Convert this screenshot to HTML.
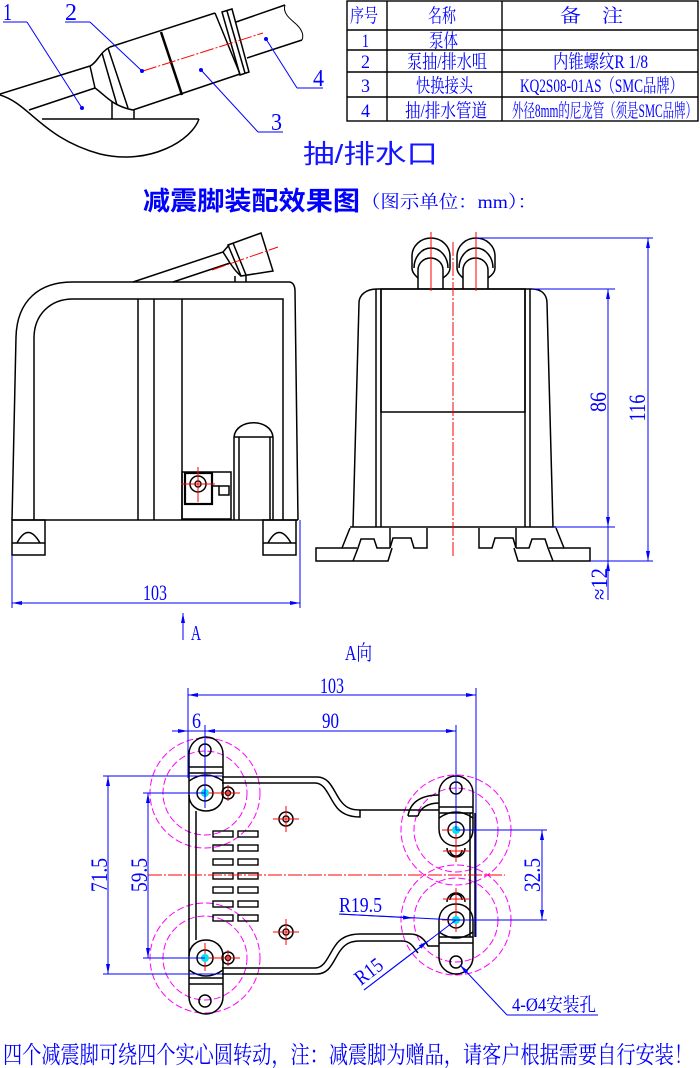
<!DOCTYPE html>
<html><head><meta charset="utf-8"><style>
html,body{margin:0;padding:0;background:#fff;}
svg{display:block;}
.k{stroke:#000;stroke-width:1.5;fill:none;}
.b{stroke:#0000ff;stroke-width:1;fill:none;}
.r{stroke:#ff0000;stroke-width:1;fill:none;stroke-dasharray:14 2 2 2;}
.rs{stroke:#ff0000;stroke-width:1;fill:none;}
.m{stroke:#ff00ff;stroke-width:1;fill:none;stroke-dasharray:7 3;}
.t{fill:#0000ff;font-family:"Liberation Serif","Noto Serif CJK SC",serif;}
.c{fill:#0000ff;font-family:"Liberation Serif","Noto Serif CJK SC",serif;}
</style></head><body>
<svg width="700" height="1068" viewBox="0 0 700 1068" xmlns="http://www.w3.org/2000/svg">
<defs>
<marker id="ar" viewBox="0 0 10 4" refX="10" refY="2" markerWidth="10" markerHeight="4" markerUnits="userSpaceOnUse" orient="auto-start-reverse"><path d="M0,0L10,2L0,4z" fill="#0000ff"/></marker>
</defs>
<rect width="700" height="1068" fill="#fff"/>

<!-- ===== Top-left detail ===== -->
<g class="k" stroke-width="1.3">
<path d="M0,95 C30,104 42,138 100,154 C150,166 192,140 199,119"/>
<line x1="42" y1="119" x2="199" y2="119"/>
<line x1="0" y1="94" x2="90" y2="66"/>
<line x1="29" y1="110" x2="95" y2="88"/>
<path d="M90,66 C97,63 100,52 110,47"/>
<path d="M95,88 C105,95 112,106 133,110"/>
<line x1="90" y1="66" x2="95" y2="88"/>
<line x1="102" y1="53" x2="117" y2="105"/>
<line x1="108" y1="48" x2="128" y2="108"/>
<line x1="110" y1="47" x2="215" y2="13"/>
<line x1="133" y1="110" x2="240" y2="74"/>
<line x1="161" y1="32" x2="182" y2="95" stroke-width="2.5"/>
<line x1="215" y1="13" x2="240" y2="74"/>
<polygon points="222,12 232,9 249,72 240,75"/>
<line x1="227" y1="11" x2="245" y2="73"/>
<line x1="236" y1="22" x2="285" y2="5"/>
<line x1="247" y1="58" x2="302" y2="40"/>
<path d="M285,5 C282,14 292,20 297,25 C302,30 304,35 302,40" stroke-width="1"/>
<line x1="112" y1="102" x2="112" y2="119"/>
<line x1="134" y1="110" x2="134" y2="119"/>
</g>
<line class="r" x1="143" y1="71" x2="263" y2="33"/>
<g class="b">
<line x1="3" y1="22" x2="27" y2="22"/><line x1="27" y1="22" x2="82" y2="108"/>
<line x1="65" y1="22" x2="90" y2="22"/><line x1="90" y1="22" x2="142" y2="71"/>
<line x1="258" y1="132" x2="283" y2="132"/><line x1="258" y1="132" x2="201" y2="70"/>
<line x1="297" y1="88" x2="323" y2="88"/><line x1="297" y1="88" x2="266" y2="39"/>
</g>
<g fill="#0000ff"><circle cx="82" cy="108" r="2"/><circle cx="142" cy="71" r="2"/><circle cx="201" cy="70" r="2"/><circle cx="266" cy="39" r="2"/></g>
<g class="t" font-size="24">
<text x="3" y="20" textLength="9" lengthAdjust="spacingAndGlyphs">1</text>
<text x="65" y="20" textLength="12" lengthAdjust="spacingAndGlyphs">2</text>
<text x="271" y="130" textLength="11" lengthAdjust="spacingAndGlyphs">3</text>
<text x="313" y="86" textLength="11" lengthAdjust="spacingAndGlyphs">4</text>
</g>

<!-- ===== Table ===== -->
<g stroke="#000" stroke-width="1.4" fill="none">
<rect x="347" y="1" width="351" height="120"/>
<line x1="387" y1="1" x2="387" y2="121"/>
<line x1="502" y1="1" x2="502" y2="121"/>
<line x1="347" y1="30" x2="698" y2="30"/>
<line x1="347" y1="50" x2="698" y2="50"/>
<line x1="347" y1="72" x2="698" y2="72"/>
<line x1="347" y1="97" x2="698" y2="97"/>
</g>
<g class="c" font-size="19">
<text x="350" y="22" textLength="28" lengthAdjust="spacingAndGlyphs">序号</text>
<text x="428" y="22" textLength="28" lengthAdjust="spacingAndGlyphs">名称</text>
<text x="560" y="22" textLength="63" lengthAdjust="spacingAndGlyphs">备　注</text>
<text x="362" y="47" textLength="7" lengthAdjust="spacingAndGlyphs">1</text>
<text x="429" y="47" textLength="29" lengthAdjust="spacingAndGlyphs">泵体</text>
<text x="361" y="68" textLength="9" lengthAdjust="spacingAndGlyphs">2</text>
<text x="407" y="68" textLength="80" lengthAdjust="spacingAndGlyphs">泵抽/排水咀</text>
<text x="553" y="68" textLength="95" lengthAdjust="spacingAndGlyphs">内锥螺纹R 1/8</text>
<text x="361" y="92" textLength="9" lengthAdjust="spacingAndGlyphs">3</text>
<text x="416" y="92" textLength="57" lengthAdjust="spacingAndGlyphs">快换接头</text>
<text x="520" y="92" textLength="163" lengthAdjust="spacingAndGlyphs">KQ2S08-01AS（SMC品牌）</text>
<text x="361" y="117" textLength="9" lengthAdjust="spacingAndGlyphs">4</text>
<text x="405" y="117" textLength="82" lengthAdjust="spacingAndGlyphs">抽/排水管道</text>
<text x="512" y="117" textLength="185" lengthAdjust="spacingAndGlyphs">外径8mm的尼龙管（须是SMC品牌）</text>
</g>

<!-- ===== Titles ===== -->
<text x="303" y="163" font-size="26" fill="#1515ff" font-family="'Liberation Sans','Noto Sans CJK SC',sans-serif" textLength="135" lengthAdjust="spacingAndGlyphs">抽/排水口</text>
<text x="143" y="210" font-size="26" font-weight="bold" fill="#0000ff" font-family="'Liberation Sans','Noto Sans CJK SC',sans-serif" textLength="217" lengthAdjust="spacingAndGlyphs">减震脚装配效果图</text>
<text x="361" y="208" font-size="18" class="c" textLength="176" lengthAdjust="spacingAndGlyphs">（图示单位：mm）：</text>

<!-- ===== Front view ===== -->
<g class="k">
<path d="M12,520 L16,337 C17,300 40,282 72,282 L289,282 C293,282 295,286 295,291 L298,520"/>
<path d="M34,520 L34,338 C34,315 50,299 73,299 L283,299 L283,520"/>
<line x1="12" y1="520" x2="298" y2="520"/>
<line x1="138" y1="299" x2="138" y2="520"/>
<line x1="154" y1="299" x2="154" y2="520"/>
<line x1="182" y1="299" x2="182" y2="520"/>
<rect x="12" y="520" width="33" height="35"/>
<line x1="12" y1="543" x2="45" y2="543"/>
<path d="M17,543 Q28,522 40,543"/>
<rect x="263" y="520" width="33" height="35"/>
<line x1="263" y1="543" x2="296" y2="543"/>
<path d="M268,543 Q279,522 291,543"/>
<line x1="133" y1="282" x2="223" y2="252"/>
<line x1="173" y1="282" x2="230" y2="263"/>
<line x1="223" y1="252" x2="230" y2="263"/>
<line x1="223" y1="252" x2="229" y2="245"/>
<path d="M230,263 C234,269 237,273 241,276"/>
<polygon points="228,245 261,233 273,271 241,276"/>
<line x1="233" y1="243" x2="246" y2="275"/>
<line x1="235" y1="276" x2="235" y2="282"/>
<line x1="246" y1="276" x2="246" y2="282"/>
<line x1="234" y1="437" x2="234" y2="520"/>
<line x1="239" y1="437" x2="239" y2="520"/>
<line x1="270" y1="437" x2="270" y2="520"/>
<line x1="273" y1="437" x2="273" y2="520"/>
<path d="M234,437 C236,418 271,418 273,437"/>
<line x1="234" y1="437" x2="273" y2="437"/>
<rect x="182" y="472" width="49" height="47"/>
<rect x="185" y="473" width="27" height="31" stroke-width="2.2"/>
<rect x="219" y="486" width="10" height="9"/>
<line x1="212" y1="486" x2="219" y2="486"/>
<circle cx="198" cy="484" r="8"/>
<circle cx="198" cy="484" r="3"/>
</g>
<line class="r" x1="212" y1="270" x2="278" y2="247"/>
<g class="rs"><line x1="181" y1="484" x2="215" y2="484"/><line x1="198" y1="467" x2="198" y2="502"/></g>
<g class="b">
<line x1="12" y1="555" x2="12" y2="608"/>
<line x1="300" y1="520" x2="300" y2="608"/>
<line x1="12" y1="603" x2="300" y2="603" marker-start="url(#ar)" marker-end="url(#ar)"/>
<line x1="183" y1="640" x2="183" y2="613" marker-end="url(#ar)"/>
</g>
<text class="t" x="143" y="600" font-size="22" textLength="24" lengthAdjust="spacingAndGlyphs">103</text>
<text class="t" x="191" y="640" font-size="21" textLength="10" lengthAdjust="spacingAndGlyphs">A</text>
<text class="t" x="345" y="660" font-size="21" textLength="27" lengthAdjust="spacingAndGlyphs">A向</text>

<!-- ===== Side view ===== -->
<g class="k">
<path d="M353,527 L359,303 C359,295 366,289 377,289 L532,289 C542,289 547,295 547,303 L553,527"/>
<line x1="376" y1="289" x2="376" y2="527"/>
<line x1="381" y1="289" x2="381" y2="527"/>
<line x1="525" y1="289" x2="525" y2="527"/>
<line x1="530" y1="289" x2="530" y2="527"/>
<rect x="381" y="289" width="144" height="123"/>
<line x1="350" y1="527" x2="556" y2="527"/>
<g id="sf">
<path d="M350,528 L342,548 L316,548 L316,561 L388,561 L392,548"/>
<path d="M390,528 L390,548 L393,538 L411,538 L414,548 L427,548 L427,528"/>
<path d="M353,561 L358,548 L361,539 L374,539 L377,548 L390,548"/>
<line x1="342" y1="548" x2="357" y2="548"/>
</g>
<use href="#sf" transform="translate(906,0) scale(-1,1)"/>
<g id="fit">
<path d="M412,268 L412,256 A19,18 0 0 1 450,256 L450,268 C450,273 446,276 443,278"/>
<path d="M412,268 C412,273 416,276 418,278"/>
<path d="M414,268 A17,20 0 0 1 448,268"/>
<path d="M418,289 L418,270 A12.5,12 0 0 1 443,270 L443,289"/>
</g>
<use href="#fit" transform="translate(45,0)"/>
</g>
<g class="rs"><line x1="431" y1="232" x2="431" y2="291"/><line x1="476" y1="232" x2="476" y2="291"/></g>
<line class="r" x1="453" y1="242" x2="453" y2="556"/>
<g class="b">
<line x1="532" y1="289" x2="615" y2="289"/>
<line x1="553" y1="527" x2="615" y2="527"/>
<line x1="608" y1="289" x2="608" y2="527" marker-start="url(#ar)" marker-end="url(#ar)"/>
<line x1="608" y1="600" x2="608" y2="561" marker-end="url(#ar)"/>
<line x1="608" y1="527" x2="608" y2="561"/>
<line x1="476" y1="238" x2="653" y2="238"/>
<line x1="590" y1="561" x2="653" y2="561"/>
<line x1="648" y1="238" x2="648" y2="561" marker-start="url(#ar)" marker-end="url(#ar)"/>
</g>
<g class="t" font-size="23" text-anchor="middle">
<text transform="translate(606,402) rotate(-90)" textLength="20" lengthAdjust="spacingAndGlyphs">86</text>
<text transform="translate(645,408) rotate(-90)" textLength="27" lengthAdjust="spacingAndGlyphs">116</text>
<text transform="translate(607,584) rotate(-90)" textLength="32" lengthAdjust="spacingAndGlyphs">≈12</text>
</g>

<!-- ===== Bottom view (A向) ===== -->
<g class="m">
<circle cx="205" cy="793" r="55"/><circle cx="205" cy="793" r="42"/>
<circle cx="205" cy="958" r="55"/><circle cx="205" cy="958" r="42"/>
<circle cx="456" cy="830" r="55"/><circle cx="456" cy="830" r="42"/>
<circle cx="456" cy="920" r="55"/><circle cx="456" cy="920" r="42"/>
</g>
<g class="k">
<line x1="189" y1="795" x2="189" y2="956"/>
<line x1="196" y1="811" x2="196" y2="940"/>
<path d="M222,777 L317,777 C330,777 333,790 340,800 C345,807 350,810 360,810 L439,810"/>
<path d="M222,783 L315,783 C325,783 328,795 335,805 C340,813 348,817 360,817 L360,810"/>
<path d="M222,974 L317,974 C330,974 333,961 340,951 C345,944 350,941 360,941 L402,941 C411,941 414,948 418,953"/>
<path d="M222,968 L315,968 C325,968 328,956 335,946 C340,938 348,934 360,934 L410,934 C420,934 425,940 428,946 L439,946"/>
<path d="M408,816 C410,803 420,795 439,795"/>
<path d="M418,816 C420,808 428,803 439,803"/>
<line x1="408" y1="816" x2="418" y2="816"/>
<line x1="470" y1="813" x2="470" y2="937"/>
<line x1="475" y1="813" x2="475" y2="937"/>
<g id="fl">
<path d="M189,773 L189,754 A17,17 0 0 1 223,754 L223,773"/>
<line x1="189" y1="767" x2="223" y2="767"/>
<line x1="189" y1="773" x2="223" y2="773"/>
<path d="M189,773 L189,795 C189,805 197,811 206,811 C215,811 223,805 223,795 L223,773"/>
<path d="M189,781 Q206,769 223,781"/>
<circle cx="205" cy="750" r="6"/>
<circle cx="205" cy="793" r="8"/>
<circle cx="228" cy="793" r="6"/>
<circle cx="228" cy="793" r="2.5"/>
</g>
<use href="#fl" transform="translate(0,1751) scale(1,-1)"/>
<g id="fr">
<path d="M439,807 L439,793 A17,17 0 0 1 473,793 L473,807"/>
<line x1="439" y1="807" x2="473" y2="807"/>
<line x1="439" y1="813" x2="473" y2="813"/>
<path d="M439,807 L439,829 C439,840 447,846 456,846 C465,846 473,840 473,829 L473,807"/>
<path d="M439,818 Q456,806 473,818"/>
<circle cx="456" cy="788" r="6"/>
<circle cx="456" cy="830" r="8"/>
<path d="M447,848 A9,9 0 0 0 465,848"/>
<path d="M450,850 A6,6 0 0 0 462,850"/>
</g>
<use href="#fr" transform="translate(0,1750) scale(1,-1)"/>
<g stroke-width="1.4">
<rect x="213" y="831" width="20" height="6"/><rect x="238" y="831" width="20" height="6"/>
<rect x="213" y="845" width="20" height="6"/><rect x="238" y="845" width="20" height="6"/>
<rect x="213" y="859" width="20" height="6"/><rect x="238" y="859" width="20" height="6"/>
<rect x="213" y="873" width="20" height="6"/><rect x="238" y="873" width="20" height="6"/>
<rect x="213" y="887" width="20" height="6"/><rect x="238" y="887" width="20" height="6"/>
<rect x="213" y="901" width="20" height="6"/><rect x="238" y="901" width="20" height="6"/>
<rect x="213" y="915" width="20" height="6"/><rect x="238" y="915" width="20" height="6"/>
</g>
<circle cx="286" cy="819" r="7"/><circle cx="286" cy="819" r="3"/>
<circle cx="286" cy="932" r="7"/><circle cx="286" cy="932" r="3"/>
</g>
<line class="r" x1="148" y1="875" x2="505" y2="875"/>
<g class="rs">
<line x1="190" y1="793" x2="240" y2="793"/><line x1="205" y1="780" x2="205" y2="808"/><line x1="228" y1="785" x2="228" y2="801"/>
<line x1="190" y1="958" x2="240" y2="958"/><line x1="205" y1="943" x2="205" y2="971"/><line x1="228" y1="950" x2="228" y2="966"/>
<line x1="442" y1="830" x2="470" y2="830"/><line x1="456" y1="818" x2="456" y2="862"/><line x1="443" y1="851" x2="469" y2="851"/>
<line x1="442" y1="920" x2="470" y2="920"/><line x1="456" y1="888" x2="456" y2="932"/><line x1="443" y1="899" x2="469" y2="899"/>
<line x1="273" y1="819" x2="299" y2="819"/><line x1="286" y1="806" x2="286" y2="832"/>
<line x1="273" y1="932" x2="299" y2="932"/><line x1="286" y1="919" x2="286" y2="945"/>
</g>
<g fill="#00e5ee"><circle cx="205" cy="793" r="4"/><circle cx="205" cy="958" r="4"/><circle cx="456" cy="830" r="4"/><circle cx="456" cy="920" r="4"/></g>
<g class="b">
<line x1="188" y1="688" x2="188" y2="778"/>
<line x1="476" y1="688" x2="476" y2="937"/>
<line x1="188" y1="695" x2="476" y2="695" marker-start="url(#ar)" marker-end="url(#ar)"/>
<line x1="205" y1="725" x2="205" y2="808"/>
<line x1="456" y1="725" x2="456" y2="830"/>
<line x1="172" y1="731" x2="188" y2="731" marker-end="url(#ar)"/>
<line x1="188" y1="731" x2="205" y2="731"/>
<line x1="222" y1="731" x2="205" y2="731" marker-end="url(#ar)"/>
<line x1="205" y1="731" x2="456" y2="731" marker-end="url(#ar)"/>
<line x1="103" y1="776" x2="222" y2="776"/>
<line x1="103" y1="974" x2="222" y2="974"/>
<line x1="108" y1="776" x2="108" y2="974" marker-start="url(#ar)" marker-end="url(#ar)"/>
<line x1="143" y1="793" x2="205" y2="793"/>
<line x1="143" y1="958" x2="205" y2="958"/>
<line x1="148" y1="793" x2="148" y2="958" marker-start="url(#ar)" marker-end="url(#ar)"/>
<line x1="456" y1="830" x2="547" y2="830"/>
<line x1="456" y1="920" x2="547" y2="920"/>
<line x1="542" y1="830" x2="542" y2="920" marker-start="url(#ar)" marker-end="url(#ar)"/>
<line x1="339" y1="914" x2="456" y2="920"/>
<line x1="339" y1="914" x2="413" y2="918" marker-end="url(#ar)"/>
<line x1="364" y1="990" x2="456" y2="920"/>
<line x1="364" y1="990" x2="428" y2="941" marker-end="url(#ar)"/>
<line x1="507" y1="1015" x2="460" y2="965" marker-end="url(#ar)"/>
<line x1="507" y1="1015" x2="598" y2="1015"/>
</g>
<g class="t">
<text x="320" y="693" font-size="22" textLength="24" lengthAdjust="spacingAndGlyphs">103</text>
<text x="192" y="728" font-size="22" textLength="9" lengthAdjust="spacingAndGlyphs">6</text>
<text x="322" y="728" font-size="22" textLength="17" lengthAdjust="spacingAndGlyphs">90</text>
<text x="339" y="912" font-size="21" textLength="43" lengthAdjust="spacingAndGlyphs">R19.5</text>
<text transform="translate(361,986) rotate(-37.5)" font-size="21" textLength="30" lengthAdjust="spacingAndGlyphs">R15</text>
<text x="512" y="1011" font-size="19" textLength="84" lengthAdjust="spacingAndGlyphs">4-Ø4安装孔</text>
</g>
<g class="t" font-size="23" text-anchor="middle">
<text transform="translate(107,875) rotate(-90)" textLength="34" lengthAdjust="spacingAndGlyphs">71.5</text>
<text transform="translate(147,875) rotate(-90)" textLength="34" lengthAdjust="spacingAndGlyphs">59.5</text>
<text transform="translate(540,875) rotate(-90)" textLength="34" lengthAdjust="spacingAndGlyphs">32.5</text>
</g>

<!-- ===== Bottom note ===== -->
<text class="c" x="3" y="1063" font-size="24" textLength="690" lengthAdjust="spacingAndGlyphs">四个减震脚可绕四个实心圆转动，注：减震脚为赠品，请客户根据需要自行安装！</text>
</svg>
</body></html>
